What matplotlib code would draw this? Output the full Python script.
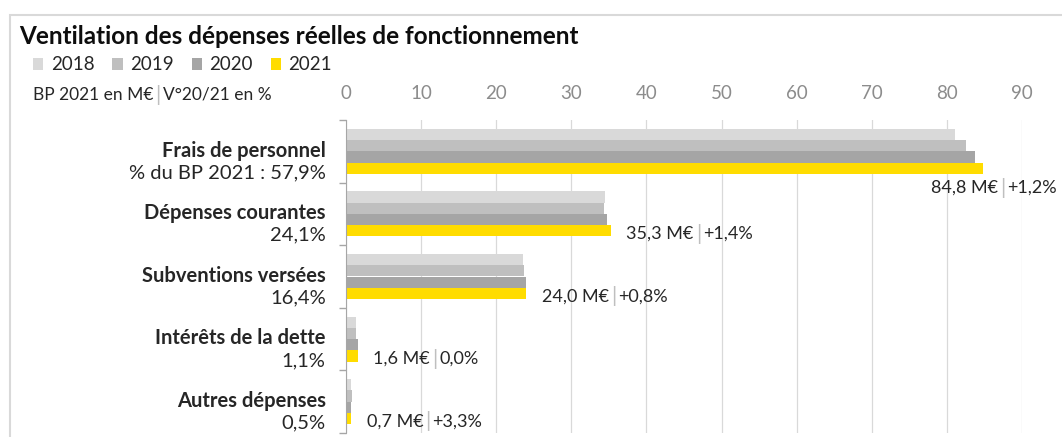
import numpy as np
import matplotlib
matplotlib.use("Agg")
import matplotlib.pyplot as plt
from matplotlib.patches import Patch, Rectangle
from matplotlib.offsetbox import TextArea, HPacker, AnnotationBbox

plt.rcParams['font.family'] = ['Lato', 'DejaVu Sans']

#-------------------------------------------------------------
# Data
categories = ["Frais de personnel", "Dépenses courantes", "Subventions versées",
              "Intérêts de la dette", "Autres dépenses"]
share_2021 = ["% du BP 2021 : 57,9%", "24,1%", "16,4%", "1,1%", "0,5%"]
years = ["2018", "2019", "2020", "2021"]
v2018 = [81.1, 34.5, 23.6, 1.3, 0.7]
v2019 = [82.6, 34.3, 23.7, 1.3, 0.8]
v2020 = [83.8, 34.8, 23.9, 1.55, 0.6]
v2021 = [84.8, 35.3, 24.0, 1.6, 0.7]
variation = [1.2, 1.4, 0.8, 0.0, 3.3]
xticks = [0, 10, 20, 30, 40, 50, 60, 70, 80, 90]

colors = ["#D9D9D9", "#BFBFBF", "#A5A5A5", "#FFDC00"]
txt = "#262626"


def sep_box(left, right, size, sep_size):
    # two texts joined by a thin gray bar
    return HPacker(children=[TextArea(left, textprops=dict(fontsize=size, color=txt)),
                             TextArea("|", textprops=dict(fontsize=sep_size, color="#BFBFBF")),
                             TextArea(right, textprops=dict(fontsize=size, color=txt))],
                   align="center", pad=0, sep=1.5)


#-------------------------------------------------------------
fig = plt.figure(figsize=(10.62, 4.37), dpi=100)
fig.patches.append(Rectangle((10/1062, -0.05), 1.1, 1 - 15/437 + 0.05, transform=fig.transFigure,
                             fill=False, edgecolor="#D9D9D9", linewidth=1.5))

ax = fig.add_axes([346/1062, 4/437, 676/1062, 313/437])

series = [v2018, v2019, v2020, v2021]
y = np.arange(len(categories))
h = 0.18
for k, vals in enumerate(series):
    ax.barh(y - 1.5*h + k*h, vals, height=h, color=colors[k], zorder=2)

ax.set_xlim(0, 90)
ax.set_ylim(len(categories) - 0.5, -0.5)
ax.set_xticks(xticks)
ax.xaxis.tick_top()
ax.tick_params(axis='x', length=0, pad=13, labelsize=13.5, labelcolor="#8C8C8C")
ax.grid(axis='x', color="#D9D9D9", linewidth=0.9, zorder=0)
ax.set_yticks(np.arange(-0.5, len(categories), 1.0))
ax.set_yticklabels([])
ax.tick_params(axis='y', length=5, color="#A6A6A6", width=1)
for s in ['top', 'right', 'bottom']:
    ax.spines[s].set_visible(False)
ax.spines['left'].set_color("#A6A6A6")

# category labels
for i, (name, share) in enumerate(zip(categories, share_2021)):
    ax.text(-0.03, i - 0.01, name, transform=ax.get_yaxis_transform(), ha='right', va='center',
            fontsize=14.5, fontweight='bold', color=txt)
    ax.text(-0.03, i + 0.34, share, transform=ax.get_yaxis_transform(), ha='right', va='center',
            fontsize=14.5, color=txt)


# data labels
def fr(v):
    return f"{v:.1f}".replace('.', ',')


for i in range(len(categories)):
    val = fr(v2021[i]) + " M€"
    var = ("+" if variation[i] > 0 else "") + fr(variation[i]) + "%"
    box = sep_box(val, var, 13, 15)
    yb = y[i] + 1.5*h
    if v2021[i] > 80:
        ab = AnnotationBbox(box, (v2021[i], yb), xybox=(8, -14), boxcoords="offset points",
                            box_alignment=(0.5, 0.5), frameon=False, annotation_clip=False)
    else:
        ab = AnnotationBbox(box, (v2021[i], yb), xybox=(11, -2), boxcoords="offset points",
                            box_alignment=(0, 0.5), frameon=False, annotation_clip=False)
    ax.add_artist(ab)

# title, legend, unit note
fig.text(19/1062, 1 - 37/437, "Ventilation des dépenses réelles de fonctionnement",
         fontsize=17.5, fontweight='bold', color="#0D0D0D", va='center')
handles = [Patch(facecolor=c, edgecolor='none') for c in colors]
fig.legend(handles, years, loc='center left', bbox_to_anchor=(33/1062, 1 - 65/437), ncol=4,
           frameon=False, fontsize=13.5, handlelength=0.55, handleheight=0.55, handletextpad=0.4,
           columnspacing=0.95, borderaxespad=0, borderpad=0, labelcolor="#262626")
note = sep_box("BP 2021 en M€", "V°20/21 en %", 12.5, 15)
fig.add_artist(AnnotationBbox(note, (33/1062, 1 - 95/437), xycoords='figure fraction',
                              box_alignment=(0, 0.5), frameon=False))

fig.savefig("out.png", dpi=100)
